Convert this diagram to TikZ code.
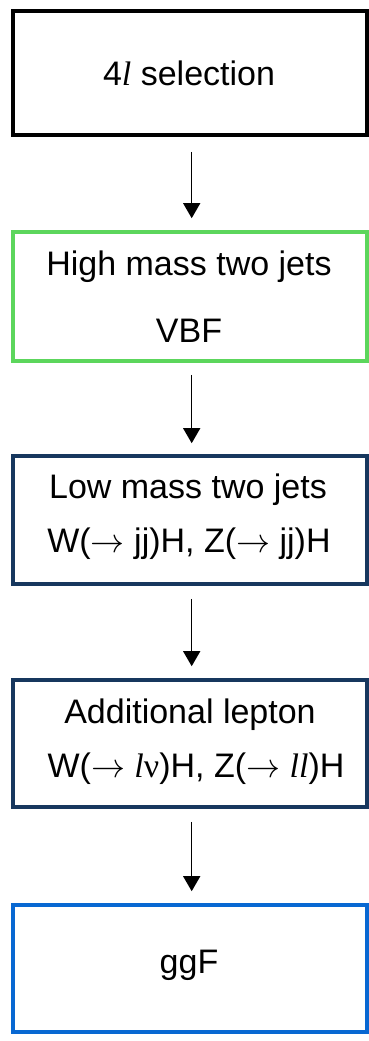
\documentclass[tikz,border=0pt]{standalone}
\usepackage{fix-cm}
\usepackage{fontspec}
\setmainfont{Liberation Sans}
\newfontfamily\seriffont{Liberation Serif}
\usetikzlibrary{arrows.meta}
\definecolor{boxgreen}{RGB}{92,214,92}
\definecolor{boxnavy}{RGB}{23,55,94}
\definecolor{boxblue}{RGB}{8,104,210}
\newcommand{\lepl}{{\seriffont\itshape l}}
\begin{document}
\begin{tikzpicture}[x=1pt,y=-1pt,
  stagebox/.style={draw,line width=3.6pt,minimum width=354pt,inner sep=0pt,fill=none},
  lbl/.style={anchor=base,inner sep=0pt,font=\fontsize{34}{40}\selectfont},
  flow/.style={line width=1.3pt,-{Triangle[length=15pt,width=17pt]}}]
\useasboundingbox (0,0) rectangle (369,1041);
\begin{scope}
\clip (0,0) rectangle (369,1041);
\node[stagebox,draw=black,minimum height=124pt] (b1) at (190,73) {};
\node[stagebox,draw=boxgreen,minimum height=129pt] (b2) at (190,296.5) {};
\node[stagebox,draw=boxnavy,minimum height=128pt] (b3) at (190,520) {};
\node[stagebox,draw=boxnavy,minimum height=127pt] (b4) at (190,743.5) {};
\node[stagebox,draw=boxblue,minimum height=127pt] (b5) at (190,968.5) {};
\end{scope}
\node[lbl] (t1) at (189,85) {4\lepl{} selection};
\node[lbl] (t2a) at (189,275) {High mass two jets};
\node[lbl] (t2b) at (189,342) {VBF};
\node[lbl] (t3a) at (188,498) {Low mass two jets};
\node[lbl] (t3b) at (189,552) {W($\rightarrow$ jj)H, Z($\rightarrow$ jj)H};
\node[lbl] (t4a) at (190,723) {Additional lepton};
\node[lbl] (t4b) at (196,777) {W($\rightarrow$ \lepl{\seriffont ν})H, Z($\rightarrow$ \lepl\lepl)H};
\node[lbl] (t5) at (189,973) {ggF};
\draw[flow] ([xshift=1.7pt,yshift=-15pt]b1.south) -- ([xshift=1.7pt,yshift=12pt]b2.north);
\draw[flow] ([xshift=1.7pt,yshift=-12pt]b2.south) -- ([xshift=1.7pt,yshift=11pt]b3.north);
\draw[flow] ([xshift=1.7pt,yshift=-13pt]b3.south) -- ([xshift=1.7pt,yshift=12pt]b4.north);
\draw[flow] ([xshift=1.7pt,yshift=-13pt]b4.south) -- ([xshift=1.7pt,yshift=12pt]b5.north);
\end{tikzpicture}
\end{document}
